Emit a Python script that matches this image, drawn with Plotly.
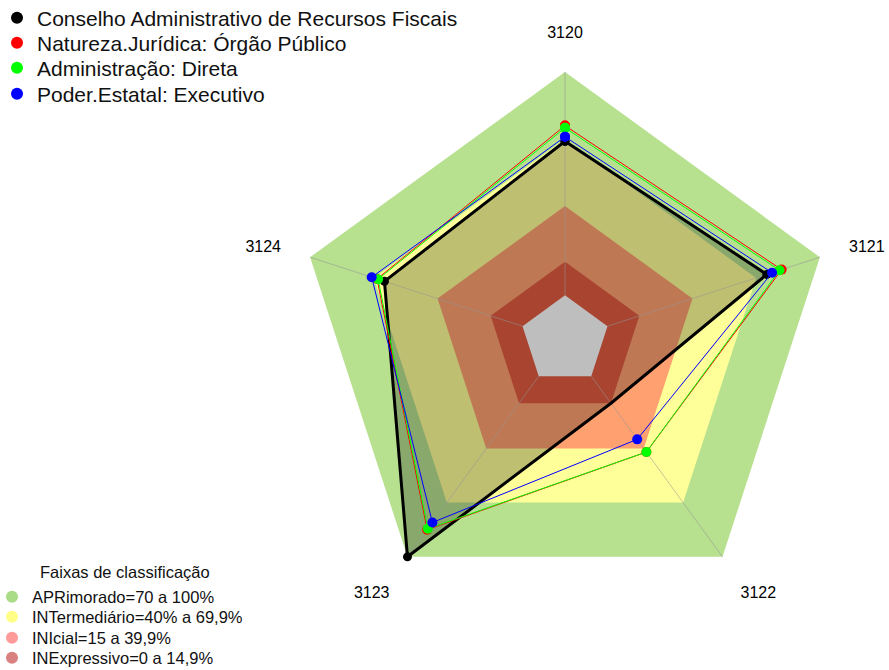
import plotly.graph_objects as go

# ---------------- data ----------------
categories = ["3120", "3121", "3122", "3123", "3124"]

series_names = [
    "Conselho Administrativo de Recursos Fiscais",
    "Natureza.Jurídica: Órgão Público",
    "Administração: Direta",
    "Poder.Estatal: Executivo",
]
conselho = [69, 75, 15, 100, 65]
natureza = [76, 82, 42, 85, 68.5]
administracao = [75, 81, 42, 84.5, 68]
poder = [71, 77.5, 35, 81, 71]
series_values = [conselho, natureza, administracao, poder]
series_colors = ["#000000", "#FF0000", "#00FF00", "#0000FF"]
series_widths = [3, 1, 1, 1]
series_msize = [9, 10, 10, 10]

bands_title = "Faixas de classificação"
band_names = [
    "APRimorado=70 a 100%",
    "INTermediário=40% a 69,9%",
    "INIcial=15 a 39,9%",
    "INExpressivo=0 a 14,9%",
]
band_upper = [100, 70, 40, 15]
band_fill = ["#B7E08F", "#FFFF99", "#FFA070", "#E05B40"]
band_legend_colors = ["#AADB86", "#FFFF88", "#FF9A9A", "#D98080"]
center_value = 0
center_color = "#BEBEBE"

radial_range = [-20, 113.5]
FONT = "Liberation Sans, Arial, sans-serif"
W, H = 889, 670
CX, CY = 565, 340          # pentagon centre in pixels
R100 = 268                 # pixel radius of the 100 % ring
RP = R100 * (radial_range[1] - radial_range[0]) / (100 - radial_range[0])


def closed(v):
    v = list(v)
    return v + [v[0]]


theta = closed(categories)

fig = go.Figure()

# classification bands (outer to inner)
for up, col in zip(band_upper, band_fill):
    fig.add_trace(go.Scatterpolar(
        r=closed([up] * len(categories)), theta=theta, mode="lines",
        fill="toself", fillcolor=col, line=dict(width=0, color=col),
        showlegend=False, hoverinfo="skip"))

# translucent fill of the main series
fig.add_trace(go.Scatterpolar(
    r=closed(conselho), theta=theta, mode="lines", fill="toself",
    fillcolor="rgba(0,0,0,0.25)", line=dict(width=0, color="rgba(0,0,0,0)"),
    showlegend=False, hoverinfo="skip"))

# spokes
for c in categories:
    fig.add_trace(go.Scatterpolar(
        r=[center_value, band_upper[0]], theta=[c, c], mode="lines",
        line=dict(color="rgba(150,150,150,0.55)", width=1),
        showlegend=False, hoverinfo="skip"))

# grey centre
fig.add_trace(go.Scatterpolar(
    r=closed([center_value] * len(categories)), theta=theta, mode="lines",
    fill="toself", fillcolor=center_color, line=dict(width=0, color=center_color),
    showlegend=False, hoverinfo="skip"))

# series lines
for name, vals, col, w, ms in zip(series_names, series_values, series_colors,
                                  series_widths, series_msize):
    fig.add_trace(go.Scatterpolar(
        r=closed(vals), theta=theta, mode="lines+markers", name=name,
        line=dict(color=col, width=w), marker=dict(color=col, size=ms),
        showlegend=False))

legends = {}
# legend entries: one small legend per entry to control spacing
series_legend_y = [18, 43, 68, 94]
for i, (name, col) in enumerate(zip(series_names, series_colors)):
    key = "legend" if i == 0 else f"legend{i + 1}"
    fig.add_trace(go.Scatterpolar(
        r=[None], theta=[None], mode="markers", name=name,
        marker=dict(color=col, size=16), legend=key))
    legends[key] = dict(
        x=-3 / W, y=1 - series_legend_y[i] / H, xanchor="left", yanchor="middle",
        font=dict(size=21, family=FONT, color="#111111"),
        bgcolor="rgba(0,0,0,0)", itemsizing="constant")

band_legend_y = [597, 617, 638, 658]
for j, (name, col) in enumerate(zip(band_names, band_legend_colors)):
    key = f"legend{len(series_names) + j + 1}"
    fig.add_trace(go.Scatterpolar(
        r=[None], theta=[None], mode="markers", name=name,
        marker=dict(color=col, size=15), legend=key))
    legends[key] = dict(
        x=-8 / W, y=1 - band_legend_y[j] / H, xanchor="left", yanchor="middle",
        font=dict(size=16.5, family=FONT, color="#111111"),
        bgcolor="rgba(0,0,0,0)", itemsizing="constant")

fig.update_layout(
    width=W, height=H,
    margin=dict(l=0, r=0, t=0, b=0, autoexpand=False),
    paper_bgcolor="white", plot_bgcolor="white",
    font=dict(family=FONT, color="black"),
    showlegend=True,
    polar=dict(
        domain=dict(x=[(CX - RP) / W, (CX + RP) / W],
                    y=[1 - (CY + RP) / H, 1 - (CY - RP) / H]),
        bgcolor="rgba(0,0,0,0)",
        gridshape="linear",
        radialaxis=dict(visible=False, range=radial_range),
        angularaxis=dict(
            type="category", categoryarray=categories,
            direction="clockwise", rotation=90,
            showline=False, showgrid=False, ticks="",
            tickfont=dict(size=16, family=FONT, color="black"),
        ),
    ),
    annotations=[dict(
        text=bands_title, x=125 / W, y=1 - 572 / H, xref="paper", yref="paper",
        xanchor="center", yanchor="middle", showarrow=False,
        font=dict(size=16.5, family=FONT, color="#111111"))],
    **legends,
)

fig.write_html("out.html", config={"displayModeBar": False},
               post_script="document.body.style.margin='0px';")
